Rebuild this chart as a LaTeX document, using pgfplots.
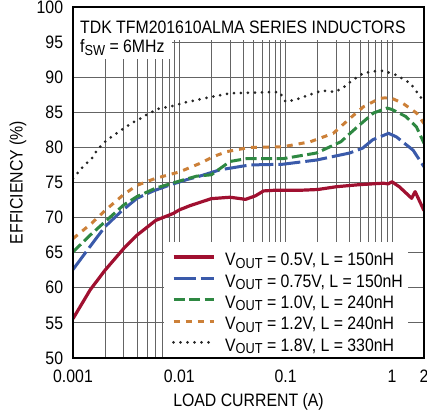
\documentclass[border=0pt]{standalone}
\usepackage{fontspec}
\setmainfont{Liberation Sans}[FakeStretch=0.88]
\usepackage{pgfplots}
\pgfplotsset{compat=1.18}
\definecolor{cred}{RGB}{160,16,48}
\definecolor{cblue}{RGB}{58,90,170}
\definecolor{cgreen}{RGB}{46,136,66}
\definecolor{corange}{RGB}{204,128,56}
\definecolor{cgrid}{RGB}{100,100,100}
\newcommand{\sub}[1]{\raisebox{-2.5pt}{\fontsize{14.5}{14.5}\selectfont #1}}
\newcommand{\ff}{\fontsize{18}{21}\selectfont}
\begin{document}
\ff
\begin{tikzpicture}
\begin{axis}[name=ax,
  scale only axis, width=351pt, height=351pt,
  xmode=log, xmin=0.001, xmax=2, ymin=50, ymax=100,
  xtick={0.001,0.01,0.1,1,2}, xticklabels={0.001,0.01,0.1,1,2},
  minor xtick={0.002,0.003,0.004,0.005,0.006,0.007,0.008,0.009,0.02,0.03,0.04,0.05,0.06,0.07,0.08,0.09,0.2,0.3,0.4,0.5,0.6,0.7,0.8,0.9},
  ytick={50,55,...,100},
  /pgf/number format/assume math mode=true,
  grid=both,
  major grid style={cgrid, line width=0.9pt},
  minor grid style={cgrid, line width=0.9pt},
  major tick length=0pt, minor tick length=0pt,
  axis line style={line width=1.6pt},
  tick label style={font=\ff},
  xticklabel style={anchor=center, yshift=-18.5pt, inner sep=0pt},
  yticklabel style={anchor=east, xshift=-9.7pt, inner sep=0pt},
  xlabel={LOAD CURRENT (A)},
  ylabel={EFFICIENCY (\%)},
  label style={font=\ff},
  xlabel style={at={(axis description cs:0.5,-0.125)}, anchor=center},
  ylabel style={at={(axis description cs:-0.157,0.5)}, anchor=center},
  no markers,
  legend style={at={(0.2812,0.0063)}, anchor=south west, draw=none, fill=none,
    inner sep=0pt, row sep=3.95pt, column sep=10pt, font=\ff,
    nodes={inner sep=0pt, text height=13pt, text depth=4.4pt}},
  legend cell align=left,
  legend image code/.code={\draw[#1] (0pt,4.4pt) -- (40pt,4.4pt);},
]
\fill[white] (rel axis cs:0,1) rectangle (rel axis cs:1,0.906);
\fill[white] (rel axis cs:0,1) rectangle (rel axis cs:0.282,0.852);
\fill[white] (rel axis cs:0.2593,0) rectangle (rel axis cs:0.9544,0.3305);
\node[anchor=base west, inner sep=0pt, font=\ff] at (rel axis cs:0.0199,0.925) {TDK TFM201610ALMA SERIES INDUCTORS};
\node[anchor=base west, inner sep=0pt, font=\ff] at (rel axis cs:0.0199,0.8698) {f\sub{SW} = 6MHz};

\addplot[cred, line width=3.2pt, line join=round] coordinates {
(0.001,55.6) (0.00145,59.7) (0.002,62.5) (0.003,65.6) (0.004,67.5) (0.006,69.6) (0.0088,70.6) (0.01,71.1) (0.0126,71.7) (0.02,72.7) (0.03,72.9) (0.042,72.6) (0.052,73.1) (0.062,73.8) (0.08,73.9) (0.14,73.9) (0.2,74.0) (0.3,74.4) (0.5,74.7) (0.83,74.9) (0.92,74.8) (1.0,75.1) (1.17,74.4) (1.53,72.75) (1.65,73.7) (2.0,71.0)};
\addlegendentry{V\sub{OUT} = 0.5V, L = 150nH}

\addplot[cblue, line width=3pt, dash pattern=on 22pt off 5pt] coordinates {
(0.001,62.6) (0.00145,65.9) (0.002,68.7) (0.0028,70.8) (0.004,72.75) (0.0057,73.8) (0.008,74.6) (0.0117,75.4) (0.0155,75.9) (0.024,76.8) (0.046,77.5) (0.094,77.6) (0.195,78.2) (0.4,79.2) (0.53,79.9) (0.66,81.1) (0.93,82.0) (1.1,81.5) (1.58,79.6) (2.0,77.25)};
\addlegendentry{V\sub{OUT} = 0.75V, L = 150nH}

\addplot[cgreen, line width=3pt, dash pattern=on 11pt off 4.5pt] coordinates {
(0.001,65.1) (0.00145,67.5) (0.0021,69.7) (0.003,71.8) (0.004,73.0) (0.006,74.2) (0.01,75.2) (0.0145,75.9) (0.02,76.1) (0.03,78.0) (0.043,78.4) (0.095,78.4) (0.195,79.2) (0.33,80.8) (0.47,82.9) (0.67,84.9) (0.9,85.6) (1.0,85.4) (1.35,84.4) (1.7,82.9) (2.0,80.6)};
\addlegendentry{V\sub{OUT} = 1.0V, L = 240nH}

\addplot[corange, line width=3pt, dash pattern=on 6pt off 6pt] coordinates {
(0.001,67.0) (0.0015,69.2) (0.002,71.0) (0.003,73.3) (0.004,74.6) (0.006,75.6) (0.01,76.5) (0.0155,77.7) (0.021,78.7) (0.028,79.4) (0.046,80.0) (0.095,80.1) (0.17,80.8) (0.28,82.0) (0.4,84.1) (0.54,85.8) (0.77,87.0) (0.96,87.1) (1.26,86.3) (1.7,84.9) (2.0,83.4)};
\addlegendentry{V\sub{OUT} = 1.2V, L = 240nH}

\addplot[black!85, line width=3pt, line cap=round, dash pattern=on 0pt off 7pt] coordinates {
(0.001,75.6) (0.00125,77.3) (0.0015,78.4) (0.0017,79.7) (0.002,80.8) (0.0024,81.7) (0.003,82.7) (0.0036,83.5) (0.0043,84.1) (0.0051,84.8) (0.0066,85.6) (0.0082,85.8) (0.0113,86.4) (0.02,87.2) (0.03,87.7) (0.048,87.8) (0.074,87.9) (0.088,87.85) (0.1,86.5) (0.127,86.85) (0.147,87.2) (0.22,88.1) (0.29,87.9) (0.34,88.4) (0.42,89.5) (0.54,90.6) (0.72,90.9) (0.83,90.9) (1.1,90.3) (1.5,89.1) (2.0,86.5)};
\addlegendentry{V\sub{OUT} = 1.8V, L = 330nH}

\draw[line width=1.6pt] (rel axis cs:0,0) rectangle (rel axis cs:1,1);
\end{axis}
\pgfresetboundingbox
\path[use as bounding box] ([xshift=-73pt,yshift=-59pt]ax.south west) rectangle ([xshift=3pt,yshift=7pt]ax.north east);
\end{tikzpicture}
\end{document}
